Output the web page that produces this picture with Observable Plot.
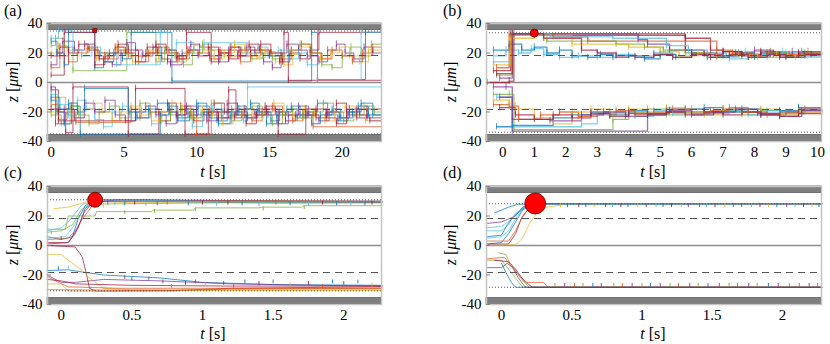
<!DOCTYPE html>
<html><head><meta charset="utf-8">
<script src="https://cdn.jsdelivr.net/npm/d3@7"></script>
<script src="https://cdn.jsdelivr.net/npm/@observablehq/plot@0.6"></script>
<style>
body{margin:0;background:#fff;font-family:Liberation Serif;}
#fig{position:relative;width:830px;height:344px;font-family:Liberation Serif;color:#000;overflow:hidden;}
.panel{position:absolute;}
.lab{position:absolute;font-family:Liberation Serif;font-size:16px;line-height:16px;white-space:nowrap;}
.ylab{position:absolute;font-family:Liberation Serif;font-size:16px;line-height:16px;white-space:nowrap;transform:translate(-50%,-50%) rotate(-90deg);}
.xlab{position:absolute;font-family:Liberation Serif;font-size:16px;line-height:16px;white-space:nowrap;transform:translate(-50%,-50%);}
</style></head><body><div id="fig"></div>
<script>
const palette = ["#0072BD","#D95319","#EDB120","#7E2F8E","#77AC30","#4DBEEE","#A2142F"];
const yTicks = [-40,-20,0,20,40];
const xTicksA = [0,5,10,15,20];
const xTicksB = [0,1,2,3,4,5,6,7,8,9,10];
const xTicksCD = [0,0.5,1,1.5,2];
const panelLabels = ["(a)","(b)","(c)","(d)"];

// ---------- panel (a) ----------
const trajA = [
 [[0,12],[0.4,20],[0.8,28],[1.6,22],[2.3,26],[3.0,18],[3.6,14],[4.2,12],[4.8,20],[5.2,27],[5.8,22],[6.3,18],[7.0,24],[7.6,16],[8.2,12],[9.0,20],[9.6,26],[10.2,24],[10.9,18],[11.5,14],[12.2,22],[12.8,18],[13.4,24],[14.0,20],[14.6,14],[15.2,10],[15.8,20],[16.2,26],[17.0,22],[17.6,18],[18.4,14],[19.0,22],[19.6,26],[20.2,20],[20.8,16],[21.5,24],[22.1,20],[22.7,20]],
 [[0,20],[0.5,25],[1.1,22],[1.8,18],[2.4,23],[3.1,16],[3.7,20],[4.5,24],[5.0,20],[5.6,14],[6.2,18],[6.8,22],[7.4,16],[8.0,20],[8.7,14],[9.3,20],[9.8,25],[10.5,22],[11.2,16],[11.9,20],[12.6,26],[13.3,22],[14.1,17],[14.7,21],[15.4,14],[16.0,12],[16.6,19],[17.2,24],[17.9,20],[18.5,16],[19.2,20],[19.8,24],[20.5,18],[21.2,14],[21.8,22],[22.7,22]],
 [[0,25],[0.3,30],[0.9,24],[1.5,8],[5.2,34],[7.2,14],[7.8,22],[8.5,18],[9.1,12],[9.7,20],[10.4,26],[11.0,22],[11.7,18],[12.4,24],[13.1,20],[13.8,16],[14.5,20],[15.2,16],[15.9,18],[16.5,22],[17.1,26],[17.8,20],[18.6,12],[19.3,10],[20.0,18],[20.6,24],[21.3,18],[22.0,26],[22.7,26]],
 [[0,28],[0.4,20],[0.9,12],[1.2,34],[3.0,10],[3.6,14],[4.3,20],[4.9,16],[5.5,34],[8.3,1],[17.9,34],[18.3,2],[21.6,34],[22.7,34]],
 [[0,5],[0.9,34],[3.0,12],[3.7,18],[4.4,24],[5.1,20],[5.8,14],[6.5,20],[7.2,26],[7.9,22],[8.6,16],[9.3,34],[11.0,14],[11.6,20],[12.3,24],[13.0,18],[13.7,22],[14.4,26],[15.1,20],[15.9,14],[16.0,34],[16.3,1.5],[22.7,1.5]],
 [[0,18],[0.6,24],[1.2,20],[1.9,26],[2.6,22],[3.3,16],[4.0,20],[4.6,26],[5.3,22],[6.0,18],[6.6,24],[7.3,20],[8.0,14],[8.7,18],[9.4,22],[10.1,18],[10.8,24],[11.5,20],[12.2,16],[12.9,22],[13.6,26],[14.3,22],[15.0,18],[15.7,14],[16.4,20],[17.1,16],[17.8,22],[18.4,34],[22.7,34]],
 [[0,30],[0.5,35],[1.5,22],[2.1,18],[2.8,24],[3.4,20],[4.5,12],[7.5,34],[8.0,22],[8.6,27],[9.8,22],[10.5,27],[13.5,20],[14.2,24],[14.9,18],[15.6,22],[16.3,16],[17.0,20],[17.6,12],[18.3,2],[21.3,34],[22.7,34]],
 [[0,10],[0.6,18],[1.2,14],[1.8,20],[2.5,24],[3.2,20],[3.9,16],[4.6,22],[5.3,18],[6.0,14],[6.7,20],[7.4,24],[8.1,20],[8.8,16],[9.5,22],[10.2,20],[10.9,16],[11.6,22],[12.3,18],[13.0,14],[13.7,18],[14.4,22],[15.1,20],[15.8,16],[16.5,22],[17.2,26],[17.9,20],[18.6,16],[19.3,22],[20.0,18],[20.7,14],[21.4,20],[22.1,24],[22.7,24]],
 [[0,-5],[0.5,-20],[1.0,-34],[1.5,-3],[5.3,-35],[7.4,-20],[8.0,-14],[8.6,-22],[9.2,-18],[9.8,-26],[10.5,-20],[11.2,-14],[11.9,-20],[12.6,-24],[13.3,-18],[14.0,-22],[14.7,-16],[15.4,-20],[16.1,-26],[16.8,-22],[17.5,-18],[18.2,-24],[18.9,-20],[19.6,-14],[20.3,-20],[21.0,-24],[21.7,-18],[22.7,-18]],
 [[0,-12],[0.4,-20],[0.9,-28],[1.4,-16],[2.0,-35],[7.5,-22],[8.1,-16],[8.7,-24],[9.4,-20],[10.0,-14],[10.7,-22],[11.4,-26],[12.1,-20],[12.8,-16],[13.4,-24],[14.1,-20],[14.8,-28],[15.5,-22],[16.2,-18],[16.9,-24],[17.6,-20],[18.3,-14],[19.0,-22],[19.7,-26],[20.4,-20],[21.1,-16],[21.8,-22],[22.7,-22]],
 [[0,-8],[0.5,-15],[1.2,-22],[1.8,-12],[2.4,-18],[3.0,-25],[3.6,-30],[4.2,-20],[4.9,-16],[5.5,-24],[6.2,-20],[6.9,-28],[7.6,-22],[8.3,-18],[9.0,-24],[9.7,-30],[10.4,-22],[11.1,-18],[11.8,-24],[12.5,-20],[13.2,-26],[13.5,-3],[22.7,-3]],
 [[0,-15],[0.5,-25],[1.1,-20],[1.7,-27],[5.5,-18],[6.1,-24],[6.8,-20],[7.5,-26],[8.2,-20],[8.9,-16],[9.6,-22],[10.0,-35],[11.0,-20],[11.7,-24],[12.4,-18],[13.1,-22],[13.8,-26],[14.5,-20],[15.2,-16],[15.9,-22],[16.6,-26],[17.3,-20],[18.0,-30],[22.7,-30]],
 [[0,-20],[0.4,-10],[1.0,-18],[1.6,-24],[2.2,-18],[2.9,-14],[3.5,-20],[4.2,-26],[4.8,-20],[5.5,-16],[6.2,-22],[6.9,-26],[7.6,-20],[8.3,-14],[9.0,-20],[9.7,-24],[10.4,-18],[11.1,-22],[11.8,-28],[12.5,-22],[13.2,-18],[13.9,-24],[14.6,-20],[15.3,-14],[16.0,-20],[16.7,-24],[17.4,-18],[18.1,-22],[18.8,-26],[19.5,-20],[20.2,-16],[20.9,-22],[21.6,-26],[22.7,-26]],
 [[0,-22],[0.7,-28],[1.3,-16],[1.9,-22],[2.6,-28],[3.3,-20],[4.0,-16],[4.7,-24],[5.4,-20],[6.1,-14],[6.8,-20],[7.5,-26],[8.2,-22],[8.9,-18],[9.6,-24],[10.3,-20],[11.0,-14],[11.7,-20],[12.4,-26],[13.1,-22],[13.8,-16],[14.5,-22],[15.2,-28],[15.9,-22],[16.6,-18],[17.3,-24],[18.0,-20],[18.7,-14],[19.4,-20],[20.1,-26],[20.8,-22],[21.5,-16],[22.2,-20],[22.7,-20]],
 [[0,-3],[0.3,-28],[0.9,-18],[1.6,-24],[2.3,-14],[3.0,-20],[3.7,-12],[4.4,-22],[5.1,-26],[5.8,-20],[6.5,-16],[7.2,-22],[7.9,-28],[8.6,-22],[9.3,-16],[10.0,-22],[10.7,-26],[11.4,-20],[12.1,-14],[12.8,-20],[13.5,-24],[14.2,-18],[14.9,-22],[15.6,-28],[16.3,-22],[17.0,-16],[17.7,-22],[18.4,-26],[19.1,-20],[19.8,-24],[20.5,-18],[21.2,-22],[21.9,-26],[22.7,-26]],
 [[0,-18],[0.5,-26],[5.8,-4],[9.2,-35],[10.8,-20],[11.5,-24],[12.2,-5],[12.7,-22],[13.4,-28],[14.1,-22],[14.8,-18],[15.6,-35],[17.5,-22],[18.2,-18],[18.9,-24],[19.6,-28],[20.3,-22],[21.0,-18],[21.7,-24],[22.7,-24]],
 [[0,-10],[0.6,-18],[1.2,-14],[1.8,-20],[2.3,-4],[5.3,-20],[5.9,-24],[6.7,-18],[7.3,-14],[8.1,-20],[8.7,-26],[9.5,-22],[10.1,-16],[10.9,-24],[11.5,-28],[12.3,-22],[12.9,-18],[13.7,-14],[14.3,-20],[15.1,-26],[15.7,-20],[16.5,-16],[17.1,-22],[17.9,-28],[18.5,-22],[19.3,-18],[19.9,-24],[20.7,-20],[21.3,-14],[22.1,-22],[22.7,-22]]
];
const colA = [3,2,4,0,6,6,5,1,6,0,5,1,2,4,3,6,0];
const markA = [[3.0,35.2]];

// ---------- panel (b) ----------
const trajB = [
 [[-0.3,22],[0.2,26],[0.6,22],[1.0,24],[1.4,20],[1.8,22],[2.2,18],[2.7,17],[3.1,19],[3.5,17],[4.0,18],[4.5,16],[5.0,19],[5.5,17],[6.0,20],[6.5,17],[7.0,18],[7.5,20],[8.0,17],[8.5,20],[9.0,18],[9.5,21],[10.13,19]],
 [[-0.3,18],[0.1,22],[0.5,20],[0.9,23],[1.3,19],[1.8,17],[2.4,18],[3.0,17],[3.6,19],[4.2,18],[4.8,20],[5.4,17],[6.0,19],[6.6,18],[7.2,16],[7.8,19],[8.4,17],[9.0,20],[9.6,18],[10.13,18]],
 [[-0.5,0],[0.2,1],[0.35,33],[5.8,30],[6.6,22],[7.0,21],[7.6,19],[8.2,21],[8.8,18],[9.4,20],[10.13,20]],
 [[-0.3,8],[0.25,33],[1.0,32],[5.8,22],[6.4,19],[7.0,21],[7.6,18],[8.2,20],[8.8,17],[9.4,19],[10.13,19]],
 [[-0.1,3],[0.3,33],[4.3,29],[4.6,26],[5.3,22],[6.0,20],[6.8,18],[7.4,20],[8.0,22],[8.6,19],[9.2,21],[9.8,19],[10.13,19]],
 [[-0.2,5],[0.3,32],[1.4,28],[3.6,26],[4.5,24],[5.1,22],[5.8,20],[6.5,17],[7.2,19],[7.8,17],[8.4,20],[9.0,18],[9.6,20],[10.13,20]],
 [[-0.3,12],[0.25,30],[1.0,32],[2.2,26],[4.0,24],[5.0,21],[5.6,18],[6.2,20],[6.8,17],[7.5,19],[8.1,17],[8.7,19],[9.3,17],[10.13,17]],
 [[-0.2,10],[0.2,33],[1.6,31],[2.7,28],[6.8,22],[7.3,20],[7.9,18],[8.5,21],[9.1,19],[9.7,21],[10.13,21]],
 [[-0.3,14],[0.3,33],[1.5,31],[3.5,30],[5.2,25],[5.9,22],[6.5,20],[7.1,18],[7.7,21],[8.3,19],[8.9,21],[9.5,18],[10.13,18]],
 [[-0.2,6],[0.3,33],[1.3,30],[2.5,22],[3.0,20],[3.6,18],[4.2,17],[4.8,19],[5.4,17],[6.0,19],[6.6,17],[7.2,19],[7.8,17],[8.4,19],[9.0,17],[9.6,19],[10.13,19]],
 [[-0.3,-3],[0.1,-3],[0.3,-33],[4.6,-22],[5.2,-20],[5.8,-18],[6.4,-20],[7.0,-18],[7.6,-20],[8.2,-22],[8.8,-20],[9.4,-18],[10.13,-20]],
 [[-0.3,-8],[0.2,-8],[0.35,-32],[3.5,-25],[4.0,-20],[4.6,-18],[5.2,-22],[5.8,-18],[6.4,-21],[7.0,-19],[7.6,-22],[8.2,-19],[8.8,-21],[9.4,-19],[10.13,-22]],
 [[-0.2,-10],[0.3,-30],[2.5,-28],[3.0,-22],[3.6,-20],[4.2,-23],[4.8,-19],[5.4,-21],[6.0,-18],[6.6,-21],[7.2,-19],[7.8,-22],[8.4,-19],[9.0,-21],[9.6,-19],[10.13,-21]],
 [[-0.2,-30],[0.3,-29],[1.6,-24],[2.2,-22],[2.8,-20],[3.4,-22],[4.0,-19],[4.6,-21],[5.2,-18],[5.8,-20],[6.4,-17],[7.0,-20],[7.6,-18],[8.2,-21],[8.8,-19],[9.4,-17],[10.13,-19]],
 [[-0.3,-15],[0.2,-16],[0.5,-25],[1.2,-22],[1.8,-20],[2.4,-23],[3.0,-21],[3.6,-19],[4.2,-22],[4.8,-20],[5.4,-18],[6.0,-21],[6.6,-19],[7.2,-17],[7.8,-20],[8.4,-22],[9.0,-20],[9.6,-18],[10.13,-21]],
 [[-0.3,-12],[0.2,-14],[0.4,-18],[1.0,-24],[1.6,-28],[2.2,-20],[2.8,-18],[3.4,-21],[4.0,-18],[4.6,-20],[5.2,-17],[5.8,-20],[6.4,-22],[7.0,-18],[7.6,-20],[8.2,-18],[8.8,-22],[9.4,-20],[10.13,-19]],
 [[-0.1,-17],[0.4,-22],[1.0,-25],[1.6,-22],[2.2,-24],[2.8,-21],[3.4,-23],[4.0,-21],[4.6,-22],[5.2,-20],[5.8,-22],[6.4,-20],[7.0,-22],[7.6,-20],[8.2,-22],[8.8,-23],[9.4,-21],[10.13,-22]],
 [[-0.1,-10],[0.3,-25],[1.5,-26],[2.5,-22],[3.2,-20],[3.9,-23],[4.6,-21],[5.3,-19],[6.0,-22],[6.7,-20],[7.4,-18],[8.1,-21],[8.8,-23],[9.5,-19],[10.13,-20]]
];
const colB = [0,5,6,6,3,4,2,1,5,6,3,4,5,0,1,2,6,3];
const markB = [[1.0,33.5]];

// ---------- panel (c) ----------
const trajC = [
 [[-0.05,25],[0.05,26],[0.12,28],[0.2,30],[0.5,29],[1.0,29.5],[1.5,28.5],[2.27,29]],
 [[-0.1,11],[0.03,11],[0.05,20],[0.24,20],[0.25,23],[0.64,23],[0.65,24],[0.94,24],[0.95,25.5],[1.4,25.5],[1.42,26],[1.7,26],[1.72,27],[2.27,27]],
 [[-0.1,9],[0.0,10],[0.08,14],[0.14,24],[0.2,28],[0.6,28.5],[1.2,29],[2.27,29]],
 [[-0.1,10],[0.0,12],[0.05,16],[0.1,22],[0.15,28],[0.25,30],[0.8,30.5],[1.6,30],[2.27,30]],
 [[-0.1,6],[0.0,4],[0.08,6],[0.12,18],[0.17,27],[0.22,30],[0.6,30],[1.0,29.5],[2.27,29.5]],
 [[-0.1,2],[0.05,2],[0.12,12],[0.17,25],[0.25,31],[0.6,31],[1.2,30.5],[2.27,30]],
 [[-0.1,4],[0.05,5],[0.1,10],[0.15,18],[0.22,27],[0.3,30],[1.0,30.5],[2.27,30]],
 [[-0.1,1],[0.05,2],[0.1,8],[0.16,22],[0.22,29],[0.4,31],[1.2,30],[2.27,29.5]],
 [[-0.1,5],[0.03,6],[0.08,12],[0.13,20],[0.2,29],[0.3,31],[1.0,30],[2.27,30]],
 [[-0.1,-17],[0.05,-16.5],[0.15,-18],[0.3,-20],[0.5,-21],[0.7,-22],[1.0,-25],[1.5,-26.5],[2.27,-27]],
 [[-0.1,-20],[0.0,-25],[0.1,-25],[0.3,-23],[0.7,-24],[1.2,-26],[1.8,-27],[2.27,-27.5]],
 [[-0.1,0],[0.1,-1],[0.15,-8],[0.18,-20],[0.2,-29],[0.25,-31],[0.8,-30.5],[1.2,-29],[2.27,-28]],
 [[-0.1,-6],[0.0,-6],[0.05,-10],[0.15,-17],[0.2,-22],[0.3,-29],[0.5,-30],[1.2,-30],[2.27,-30]],
 [[-0.1,-21],[0.0,-26],[0.05,-28],[0.4,-29],[1.0,-29],[2.27,-29]],
 [[-0.1,-26],[0.0,-26],[0.05,-31],[0.8,-31],[0.85,-30.5],[2.27,-30.5]],
 [[-0.1,-23],[0.0,-24],[0.1,-26],[0.5,-27],[1.2,-27.5],[2.27,-27.5]],
 [[-0.1,-30],[0.8,-30.5],[1.2,-29.5],[2.27,-29]]
];
const colC = [2,4,4,5,0,6,1,3,5,0,3,6,2,1,2,6,1];
const spikeC = [[0.3,28,2],[0.33,30,0],[0.38,30,5],[0.45,29.5,0],[0.52,30,6],[0.6,29,5],[0.68,29.5,0],[0.75,30,1],[0.9,29.5,0],[1.0,30,6],[1.1,29,5],[1.18,30,6],[1.28,29.5,0],[1.4,29,5],[1.52,30,1],[1.62,29.5,0],[1.75,29,5],[1.85,30,6],[1.95,29.5,0],[2.05,29,5],[2.15,29.5,0],[2.2,30,6],[0.45,23.5,4],[0.66,24.5,4],[0.95,25.5,4],[1.43,26,4],[1.72,27,4],[-0.07,10,5],[0.0,6,0],
 [0.45,-23,3],[0.5,-24,0],[0.62,-24,0],[0.72,-26,3],[0.78,-29,1],[0.88,-27,6],[0.95,-26,0],[1.02,-28,2],[1.15,-27,3],[1.22,-29,1],[1.3,-26,0],[1.4,-27,6],[1.5,-26,0],[1.62,-28,2],[1.75,-27,6],[1.85,-29,1],[1.92,-26,0],[2.0,-27,3],[2.1,-26,0],[2.2,-28,2],[-0.02,-17,0],[0.05,-16.5,5]];
const markC = [[0.24,31]];

// ---------- panel (d) ----------
const trajD = [
 [[-0.05,22],[0.0,24],[0.05,26],[0.12,28],[0.3,28.3],[2.28,28.3]],
 [[-0.1,5],[0.0,6],[0.05,10],[0.1,18],[0.15,25],[0.22,28],[2.28,28.3]],
 [[-0.1,10],[0.0,10],[0.05,14],[0.1,22],[0.18,27],[0.25,28.3],[2.28,28.3]],
 [[-0.1,1],[0.0,2],[0.05,8],[0.1,16],[0.15,24],[0.22,28.3],[2.28,28.3]],
 [[-0.1,1],[0.05,1],[0.1,8],[0.14,18],[0.2,26],[0.28,28.3],[2.28,28.3]],
 [[-0.1,15],[0.0,16],[0.05,18],[0.1,20],[0.15,26],[0.25,28.3],[2.28,28.3]],
 [[-0.1,3],[0.05,3],[0.1,10],[0.15,20],[0.2,26],[0.3,28.3],[2.28,28.3]],
 [[-0.1,0],[0.1,0.5],[0.15,5],[0.2,15],[0.25,22],[0.32,26],[0.4,27],[0.45,28.3],[2.28,28.3]],
 [[-0.1,6],[0.0,7],[0.04,14],[0.08,19],[0.14,24],[0.2,28.3],[2.28,28.3]],
 [[-0.1,12],[0.0,13],[0.06,17],[0.12,23],[0.2,28],[2.28,28.3]],
 [[-0.02,-5],[0.03,-6],[0.06,-12],[0.1,-17],[0.15,-24],[0.2,-28.3],[2.28,-28.3]],
 [[-0.1,-10],[0.0,-10],[0.05,-16],[0.1,-22],[0.15,-28.3],[2.28,-28.3]],
 [[-0.1,-15],[0.0,-15],[0.04,-12],[0.08,-15],[0.12,-22],[0.17,-28.3],[2.28,-28.3]],
 [[-0.1,-9],[0.02,-8],[0.07,-14],[0.12,-20],[0.18,-25],[0.3,-25],[0.33,-28.3],[2.28,-28.3]],
 [[0.0,-12],[0.03,-18],[0.07,-25],[0.1,-28.3],[2.28,-28.3]],
 [[-0.05,-10],[0.05,-11],[0.1,-16],[0.16,-24],[0.22,-28.3],[2.28,-28.3]]
];
const colD = [0,5,5,0,6,3,1,2,0,5,4,4,3,1,0,6];
const spikeD = [[0.42,28.3,2],[0.47,28.3,3],[0.55,28.3,6],[0.6,28.3,0],[0.66,28.3,2],[0.74,28.3,3],[0.79,28.3,5],[0.85,28.3,6],[0.9,28.3,0],[0.97,28.3,2],[1.03,28.3,3],[1.1,28.3,5],[1.15,28.3,0],[1.21,28.3,6],[1.28,28.3,2],[1.33,28.3,3],[1.41,28.3,0],[1.46,28.3,5],[1.52,28.3,6],[1.59,28.3,2],[1.65,28.3,0],[1.71,28.3,3],[1.78,28.3,5],[1.84,28.3,6],[1.9,28.3,2],[1.96,28.3,0],[2.03,28.3,3],[2.09,28.3,5],[2.15,28.3,6],[2.21,28.3,2],[2.26,28.3,0],
 [0.38,-28.3,4],[0.45,-28.3,3],[0.52,-28.3,1],[0.58,-28.3,4],[0.65,-28.3,0],[0.71,-28.3,3],[0.8,-28.3,4],[0.86,-28.3,1],[0.93,-28.3,3],[1.0,-28.3,4],[1.06,-28.3,0],[1.13,-28.3,3],[1.2,-28.3,4],[1.26,-28.3,1],[1.34,-28.3,3],[1.4,-28.3,4],[1.47,-28.3,0],[1.55,-28.3,3],[1.62,-28.3,4],[1.68,-28.3,1],[1.76,-28.3,3],[1.82,-28.3,4],[1.9,-28.3,0],[1.97,-28.3,3],[2.05,-28.3,4],[2.12,-28.3,1],[2.19,-28.3,3],[2.25,-28.3,4]];
const markD = [[0.24,28.5]];

// ---------- rendering ----------
function toRows(trajs, cols) {
  const out = [];
  trajs.forEach((tr, i) => tr.forEach(([t, z]) => out.push({t, z, id: i, c: palette[cols[i]]})));
  return out;
}

function makePanel(o) {
  const rows = toRows(o.traj, o.cols);
  const [x0, x1] = o.xDomain;
  const walls = [[35.6, 40], [-40, -35.6]];
  const marks = [
    Plot.rect(walls, {x1: () => x0, x2: () => x1, y1: d => d[0], y2: d => d[1], fill: "#7f7f7f", stroke: "#5a5a5a", strokeWidth: 0.8}),
    Plot.ruleY([0], {stroke: "#8c8c8c", strokeWidth: 1.3}),
    Plot.line(rows, {x: "t", y: "z", z: "id", stroke: "c", strokeWidth: o.sw, strokeOpacity: 0.72, curve: o.curve}),
  ];
  if (o.vertexSpikes) {
    marks.push(Plot.ruleX(rows, {x: "t", y1: d => d.z - 2.2, y2: d => d.z + 2.2, stroke: "c", strokeOpacity: 0.7, strokeWidth: 1}));
  }
  if (o.spikes) {
    marks.push(Plot.ruleX(o.spikes, {x: d => d[0], y1: d => d[1], y2: d => d[1] - Math.sign(d[1]) * 2.6, stroke: d => palette[d[2]], strokeOpacity: 0.85, strokeWidth: 1}));
  }
  marks.push(
    Plot.ruleY([18.3, -18.3], {stroke: "#555", strokeWidth: 1, strokeDasharray: "7,5"}),
    Plot.ruleY(o.dotted, {stroke: "#555", strokeWidth: 1, strokeDasharray: "1,2"}),
    Plot.dot(o.mark, {x: d => d[0], y: d => d[1], r: o.r, symbol: o.symbol, fill: "#ff0000", stroke: "#5a0000", strokeWidth: 0.8}),
    Plot.frame({stroke: "#c4c4c4", strokeWidth: 1.5}),
    Plot.axisY({ticks: yTicks, tickFormat: d => String(d), tickSize: -4, tickPadding: 9, stroke: "#888", fill: "black", fontSize: 15, fontFamily: "Liberation Serif"}),
    Plot.axisX({ticks: o.xTicks, tickFormat: d => String(d), tickSize: 0, tickPadding: 5, fill: "black", fontSize: 15, fontFamily: "Liberation Serif"})
  );
  const svg = Plot.plot({
    width: 415, height: 172,
    marginLeft: o.ml, marginRight: o.mr, marginTop: o.mt, marginBottom: o.mb,
    x: {domain: o.xDomain, label: null},
    y: {domain: [-40, 40], label: null},
    color: {type: "identity"},
    style: "font-family: Liberation Serif; font-size: 15px; background: transparent; overflow: visible; color: black;",
    marks
  });
  svg.querySelectorAll("text").forEach(t => t.setAttribute("font-family", "Liberation Serif"));
  return svg;
}

const fig = document.getElementById("fig");
function place(el, left, top) {
  const d = document.createElement("div");
  d.className = "panel"; d.style.left = left + "px"; d.style.top = top + "px";
  d.appendChild(el); fig.appendChild(d);
}

place(makePanel({traj: trajA, cols: colA, xDomain: [-0.25, 22.7], xTicks: xTicksA, dotted: [34.9, -34.9], curve: "step-after", sw: 1, vertexSpikes: true, mark: markA, r: 2.2, symbol: "square", ml: 47, mr: 34, mt: 23, mb: 31}), 0, 0);
place(makePanel({traj: trajB, cols: colB, xDomain: [-0.52, 10.13], xTicks: xTicksB, dotted: [33.7, -33.7], curve: "step-after", sw: 1.3, vertexSpikes: true, mark: markB, r: 4, symbol: "circle", ml: 71, mr: 9, mt: 23, mb: 31}), 415, 0);
place(makePanel({traj: trajC, cols: colC, xDomain: [-0.097, 2.267], xTicks: xTicksCD, dotted: [31, -30.7], curve: "linear", sw: 1, spikes: spikeC, mark: markC, r: 7.5, symbol: "circle", ml: 47, mr: 34, mt: 14, mb: 40}), 0, 172);
place(makePanel({traj: trajD, cols: colD, xDomain: [-0.107, 2.278], xTicks: xTicksCD, dotted: [28.3, -28.3], curve: "linear", sw: 1, spikes: spikeD, mark: markD, r: 10.5, symbol: "circle", ml: 71, mr: 9, mt: 14, mb: 40}), 415, 172);

function addText(cls, html, x, y) {
  const d = document.createElement("div");
  d.className = cls; d.innerHTML = html;
  d.style.left = x + "px"; d.style.top = y + "px";
  fig.appendChild(d);
}
const labPos = [[4, 3], [443, 3], [4, 165], [443, 165]];
panelLabels.forEach((s, i) => addText("lab", s, labPos[i][0], labPos[i][1]));
const yl = "<i>z</i> [<i>μm</i>]";
const xl = "<i>t</i> [s]";
addText("ylab", yl, 13, 82); addText("ylab", yl, 451, 82);
addText("ylab", yl, 13, 245); addText("ylab", yl, 451, 245);
addText("xlab", xl, 213, 172); addText("xlab", xl, 653, 172);
addText("xlab", xl, 213, 334); addText("xlab", xl, 653, 334);
</script></body></html>
